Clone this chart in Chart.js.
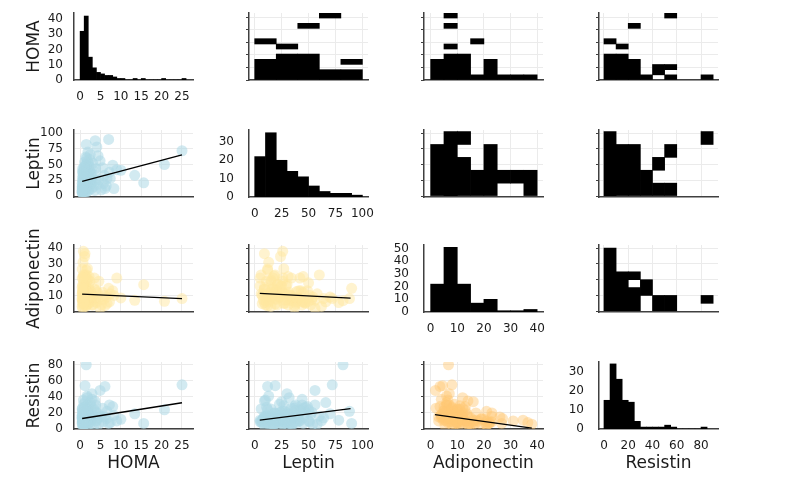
<!DOCTYPE html>
<html>
<head>
<meta charset="utf-8">
<script src="https://cdn.jsdelivr.net/npm/chart.js@4"></script>
<style>
  body { margin: 0; background: #fff; width: 800px; height: 500px; position: relative; overflow: hidden; }
  canvas { position: absolute; }
</style>
</head>
<body>
<script>
const names = ['HOMA', 'Leptin', 'Adiponectin', 'Resistin'];

// one value per patient, same order in every array
const homa = [25.0, 20.7, 15.6, 13.4, 10.0, 9.0, 8.3, 8.0, 7.4, 7.0,
  7.2, 6.6, 6.1, 6.4, 5.7, 5.5, 5.2, 4.9, 4.6, 4.4,
  4.1, 4.2, 3.7, 3.5, 3.8, 3.3, 3.1, 3.0, 3.6, 5.9,
  3.9, 2.9, 2.4, 2.1, 2.7, 2.2, 2.5, 2.8, 2.3, 2.6,
  2.0, 2.2, 2.9, 2.4, 2.6, 2.1, 1.5, 1.9, 1.2, 1.4,
  1.2, 1.8, 1.1, 1.3, 1.6, 1.7, 1.0, 1.4, 1.9, 1.1,
  1.6, 1.3, 1.8, 1.5, 1.2, 1.7, 1.0, 1.9, 1.4, 1.6,
  1.3, 1.1, 1.8, 1.5, 1.2, 1.7, 1.0, 1.9, 1.4, 1.6,
  1.3, 1.5, 1.1, 1.8, 1.2, 1.7, 1.0, 1.4, 0.8, 0.5,
  0.7, 0.6, 0.9, 0.5, 0.8, 0.6, 0.9, 0.7, 0.5, 0.9,
  0.6, 0.8, 0.7, 0.5, 0.9, 0.6, 0.8, 0.7, 0.5, 0.9,
  0.6, 0.8, 0.7, 0.5, 0.9, 0.6, 0.8, 0.7, 0.5, 0.6];
const leptin = [72, 50, 21, 33, 41, 42, 12, 49, 28, 90,
  38, 28, 12, 16, 20, 45, 10, 56, 26, 64,
  78, 18, 88, 34, 44, 15, 52, 22, 9, 33,
  25, 30, 58, 47, 36, 24, 66, 12, 40, 19,
  53, 31, 44, 15, 27, 9, 82, 70, 19, 62,
  9, 27, 24, 45, 34, 13, 22, 51, 38, 17,
  28, 8, 56, 41, 30, 21, 11, 15, 36, 60,
  25, 47, 18, 33, 6, 42, 29, 23, 14, 50,
  37, 12, 54, 32, 20, 7, 40, 26, 26, 5,
  10, 9, 18, 8, 7, 14, 35, 21, 12, 45,
  24, 16, 31, 6, 11, 28, 19, 39, 15, 23,
  5, 33, 13, 20, 27, 43, 10, 17, 9, 37];
const adiponectin = [8.0, 6.3, 16.8, 6.9, 8.4, 21, 10, 13, 11, 14.5,
  6, 5, 3.5, 9, 7.5, 12, 4, 1.8, 19, 8,
  5.5, 12, 8, 21, 6, 10, 4, 9, 14, 10,
  13, 7, 11, 5, 8.5, 16, 6, 10, 9, 12.5,
  7.5, 22, 4, 19, 11, 14, 6.7, 9, 4.5, 3,
  36.5, 27, 34.7, 22, 8, 6, 12, 10, 5, 15,
  9.5, 11, 7, 13, 17, 4, 8, 20, 6.5, 23,
  16, 5.5, 14, 10.5, 23, 8, 16, 11.5, 7, 18,
  3.5, 26, 9, 12, 13.5, 10, 7.5, 21, 38, 21,
  9.7, 5.4, 22.4, 7.2, 4.8, 12, 8, 17, 26.7, 6,
  10, 14, 4, 11, 19, 7, 23, 12.5, 3, 9,
  16, 10, 31, 8, 5, 13, 6.5, 21, 15, 2];
const resistin = [55, 24, 7, 19, 12, 10, 17, 28, 8, 7,
  30, 22, 53, 13, 9, 26, 16, 48, 6, 14,
  11, 20, 22, 5, 30, 25, 18, 12, 35, 15,
  10, 44, 6, 27, 14, 9, 33, 24, 17, 11,
  21, 8, 37, 12, 29, 16, 80, 19, 54, 10,
  8, 13, 11, 7, 26, 41, 15, 9, 23, 6,
  18, 13, 30, 10, 20, 14, 27, 12, 8, 16,
  34, 21, 5, 11, 9, 24, 7, 17, 13, 10,
  28, 15, 6, 39, 19, 8, 12, 22, 6, 9,
  8, 4, 9, 12.8, 10.6, 16, 5, 11, 7, 14,
  21, 6, 18, 25, 13, 9, 20, 8, 15, 31,
  11, 7, 10, 17, 12, 23, 36, 5, 14, 26];

// diagonal histograms: left bin edges and counts
const homaEdges = [0, 1, 2, 3, 4, 5, 6, 7, 8, 9, 10, 11, 12, 13, 14, 15, 16, 17, 18, 19, 20, 21, 22, 23, 24, 25];
const homaCounts = [32, 42, 15, 8, 5, 4, 3, 3, 2, 1, 1, 0, 0, 1, 0, 1, 0, 0, 0, 0, 1, 0, 0, 0, 0, 1];
const leptinEdges = [0, 10, 20, 30, 40, 50, 60, 70, 80, 90];
const leptinCounts = [22, 35, 20, 14, 11, 6, 3, 2, 2, 1];
const adipoEdges = [0, 5, 10, 15, 20, 25, 30, 35];
const adipoCounts = [22, 51, 22, 7, 10, 1, 1, 2];
const resistinEdges = [0, 5, 10, 15, 20, 25, 30, 35, 40, 45, 50, 55, 60, 65, 70, 75, 80];
const resistinCounts = [15, 34, 26, 15, 14, 4, 1, 1, 1, 1, 2, 1, 0, 0, 0, 0, 1];

// upper triangle 2d histogram cells: [x0, x1, y0, y1]
const cellsHomaLeptin = [[0, 20, 0, 8.2], [0, 20, 14.3, 16.4], [20, 40, 0, 10.3], [20, 40, 12.3, 14.3],
  [40, 60, 0, 10.3], [40, 60, 20.5, 22.5], [60, 80, 0, 4.1], [60, 80, 24.6, 26.6],
  [80, 100, 0, 4.1], [80, 100, 6.2, 8.2]];
const cellsHomaAdipo = [[0, 5, 0, 8.2], [5, 10, 0, 10.3], [5, 10, 12.3, 14.3], [5, 10, 20.5, 22.5],
  [5, 10, 24.6, 26.6], [10, 15, 0, 10.3], [15, 20, 0, 2.05], [15, 20, 14.3, 16.4],
  [20, 25, 0, 8.2], [25, 30, 0, 2.05], [30, 35, 0, 2.05], [35, 40, 0, 2.05]];
const cellsHomaResistin = [[0, 10, 0, 10.3], [0, 10, 14.3, 16.4], [10, 20, 0, 10.3], [10, 20, 12.3, 14.3],
  [20, 30, 0, 8.2], [20, 30, 20.5, 22.5], [30, 40, 0, 2.05], [40, 50, 2.05, 6.15],
  [50, 60, 0, 2.05], [50, 60, 4.1, 6.15], [50, 60, 24.6, 26.6], [80, 90, 0, 2.05]];
const cellsLeptinAdipo = [[0, 5, 0, 82], [5, 10, 0, 102.5], [10, 15, 0, 61.5], [10, 15, 82, 102.5],
  [15, 20, 0, 41], [20, 25, 0, 82], [25, 30, 20.5, 41], [30, 35, 20.5, 41], [35, 40, 0, 41]];
const cellsLeptinResistin = [[0, 10, 0, 102.5], [10, 20, 0, 82], [20, 30, 0, 82], [30, 40, 0, 41],
  [40, 50, 0, 20.5], [40, 50, 41, 61.5], [50, 60, 0, 20.5], [50, 60, 61.5, 82], [80, 90, 82, 102.5]];
const cellsAdipoResistin = [[0, 10, 0, 40], [10, 20, 0, 25], [20, 30, 0, 15], [20, 30, 20, 25],
  [30, 40, 10, 20], [40, 50, 0, 10], [50, 60, 0, 10], [80, 90, 5, 10]];

// regression lines: [[x0, y0], [x1, y1]]
const fitHomaLeptin = [[0.5, 23.5], [25, 65.5]];
const fitHomaAdipo = [[0.5, 10.9], [25, 8.0]];
const fitLeptinAdipo = [[4.7, 11.3], [89, 8.3]];
const fitHomaResistin = [[0.5, 13.1], [25, 32.7]];
const fitLeptinResistin = [[4.7, 11.0], [89, 25.5]];
const fitAdipoResistin = [[1.6, 17.8], [38, 1.2]];

// axis ranges [min, max, tick step]
const xRange = [[-1.5, 27.7, 5], [-5.3, 105.2, 25], [-2.5, 42.2, 10], [-4.1, 94, 20]];
const varRange = [[0, 26.6, 5], [-1.5, 105, 25], [-0.5, 42, 10], [0, 83.5, 20]];
const histRange = [[0, 44, 10], [0, 36.5, 10], [0, 52.9, 10], [0, 35, 10]];

const blue = 'rgba(173, 216, 230, 0.55)';
const yellow = 'rgba(255, 232, 160, 0.5)';
const orange = 'rgba(254, 200, 115, 0.45)';

Chart.defaults.font.family = 'DejaVu Sans';
Chart.defaults.font.size = 12;
Chart.defaults.color = '#1a1a1a';

const colLeft = [74, 249, 424, 599];
const rowTop = [13, 130, 245, 362];
const W = 119, H = 67;
const TOP = 35;  // room above each plot for overflowing titles

function scale(r, showLabels, grid, title, isX, pad, marks) {
  return {
    type: 'linear', min: r[0], max: r[1], offset: false,
    ticks: { display: showLabels, stepSize: r[2], includeBounds: false, autoSkip: false,
      maxRotation: 0, padding: pad },
    grid: { display: grid, color: '#ebebeb', drawTicks: !!marks, tickLength: 3,
      tickColor: '#404040', offset: false },
    border: { display: true, color: '#404040', width: 1.5 },
    title: title ? { display: true, text: title, font: { size: 17 }, color: '#1a1a1a',
      padding: isX ? { top: 0, bottom: 15 } : { top: 24, bottom: 0 } } : { display: false }
  };
}

function panel(row, col, type, datasets, xs, ys) {
  const yw = col === 0 ? 74 : 50;
  const xh = row === 3 ? 60 : 30;
  const c = document.createElement('canvas');
  c.width = yw + W + 25;
  c.height = TOP + H + xh;
  c.style.left = (colLeft[col] - yw) + 'px';
  c.style.top = (rowTop[row] - TOP) + 'px';
  document.body.appendChild(c);
  new Chart(c, {
    type: type,
    data: { datasets: datasets },
    options: {
      responsive: false, animation: false,
      layout: { padding: { top: TOP, right: 25, left: 0, bottom: 0 } },
      plugins: { legend: { display: false }, tooltip: { enabled: false } },
      scales: {
        x: Object.assign(xs, { afterFit: s => { s.height = xh; } }),
        y: Object.assign(ys, { afterFit: s => { s.width = yw; } })
      }
    }
  });
}

const vars = [homa, leptin, adiponectin, resistin];
const hist = [[homaEdges, homaCounts, 1], [leptinEdges, leptinCounts, 10],
  [adipoEdges, adipoCounts, 5], [resistinEdges, resistinCounts, 5]];
// lower triangle [row, col]
const lower = [[1, 0, fitHomaLeptin, blue], [2, 0, fitHomaAdipo, yellow], [2, 1, fitLeptinAdipo, yellow],
  [3, 0, fitHomaResistin, blue], [3, 1, fitLeptinResistin, blue], [3, 2, fitAdipoResistin, orange]];
const upper = [[0, 1, cellsHomaLeptin], [0, 2, cellsHomaAdipo], [0, 3, cellsHomaResistin],
  [1, 2, cellsLeptinAdipo], [1, 3, cellsLeptinResistin], [2, 3, cellsAdipoResistin]];

// diagonal
hist.forEach(([edges, counts, w], i) => {
  panel(i, i, 'bar', [{
    data: edges.map((e, k) => ({ x: e + w / 2, y: counts[k] })),
    backgroundColor: '#000', borderWidth: 0, barPercentage: 1, categoryPercentage: 1, grouped: false
  }],
  scale(xRange[i], true, false, i === 3 ? names[i] : null, true, 10),
  scale(histRange[i], true, false, i === 0 ? names[i] : null, false, i === 0 ? 11 : 15));
});

// scatter + fit
lower.forEach(([r, c, fit, color]) => {
  panel(r, c, 'scatter', [
    { data: fit.map(p => ({ x: p[0], y: p[1] })), showLine: true, borderColor: '#000',
      borderWidth: 1.3, pointRadius: 0 },
    { data: vars[c].map((v, k) => ({ x: v, y: vars[r][k] })), backgroundColor: color,
      borderWidth: 0, pointRadius: 5.5 }
  ],
  scale(xRange[c], r === 3, true, r === 3 ? names[c] : null, true, 10),
  scale(varRange[r], c === 0, true, c === 0 ? names[r] : null, false, 11, c > 0));
});

// 2d histograms
upper.forEach(([r, c, cells]) => {
  panel(r, c, 'bar', [{
    data: cells.map(q => ({ x: (q[0] + q[1]) / 2, y: [q[2], q[3]] })),
    backgroundColor: '#000', borderWidth: 0, barPercentage: 1, categoryPercentage: 1, grouped: false
  }],
  scale(xRange[c], false, true, null, true, 0),
  scale(varRange[r], false, true, null, false, 0, true));
});
</script>
</body>
</html>
